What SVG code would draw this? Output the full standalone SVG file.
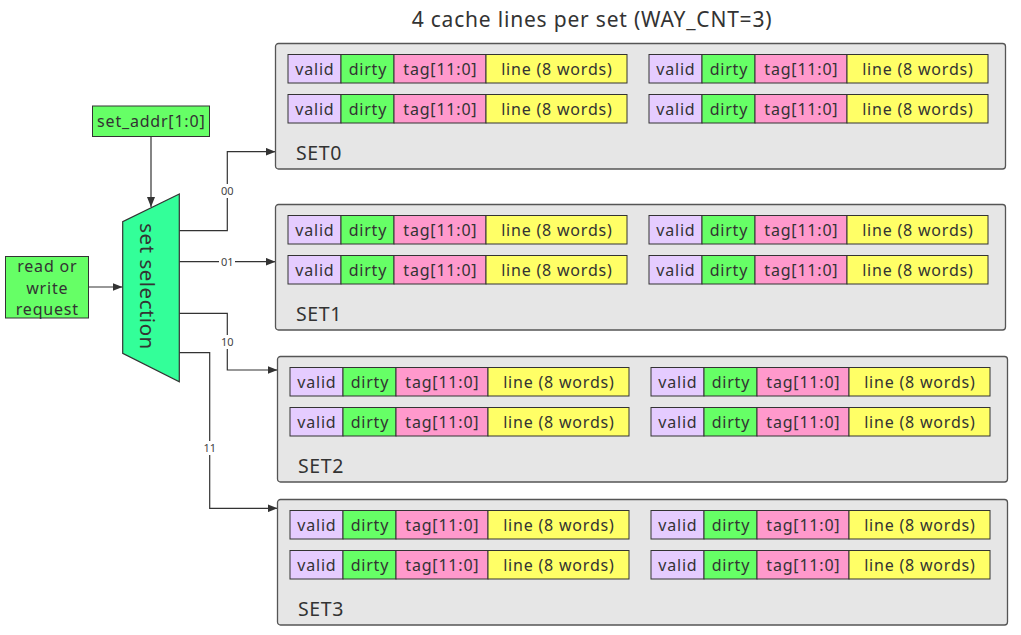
<svg xmlns="http://www.w3.org/2000/svg" width="1021" height="635" viewBox="0 0 1021 635">
<style>
text{font-family:"Noto Sans","Open Sans","DejaVu Sans",sans-serif;fill:#333}
.setbox{fill:#e6e6e6;stroke:#555;stroke-width:1.3}
.c{stroke:#333;stroke-width:1}
.v{fill:#e5ccff}.d{fill:#66ff66}.t{fill:#ff99cc}.l{fill:#ffff66}
.ct{font-size:16px;text-anchor:middle;letter-spacing:0.8px}
.sl{font-size:19.5px;letter-spacing:0.6px}
.wire{fill:none;stroke:#333;stroke-width:1.2}
.lbl{font-size:11px;text-anchor:middle;fill:#444}
.lblbg{fill:#fff}
</style>
<defs>
<marker id="arr" viewBox="0 0 10 8" refX="10" refY="4" markerWidth="10" markerHeight="8" markerUnits="userSpaceOnUse" orient="auto">
<path d="M0,0 L10,4 L0,8 Z" fill="#333"/>
</marker>
</defs>
<rect width="1021" height="635" fill="#fff"/>
<text x="592" y="27" style="font-size:21px;letter-spacing:0.8px" text-anchor="middle">4 cache lines per set (WAY_CNT=3)</text>

<g id="connectors">
<path class="wire" d="M151,136.5 V207" marker-end="url(#arr)"/>
<path class="wire" d="M88.5,287 H122.5" marker-end="url(#arr)"/>
<path class="wire" d="M179.3,230.7 H227.3 V151.7 H275.5" marker-end="url(#arr)"/>
<path class="wire" d="M179.3,261.7 H275.5" marker-end="url(#arr)"/>
<path class="wire" d="M179.3,313.3 H227.3 V370 H277.5" marker-end="url(#arr)"/>
<path class="wire" d="M179.3,352.7 H209.7 V508.3 H277.5" marker-end="url(#arr)"/>
<rect class="lblbg" x="219" y="184" width="16" height="14"/>
<text class="lbl" x="227.3" y="195">00</text>
<rect class="lblbg" x="219" y="255" width="16" height="14"/>
<text class="lbl" x="227.3" y="266">01</text>
<rect class="lblbg" x="219" y="335" width="16" height="14"/>
<text class="lbl" x="227.3" y="346">10</text>
<rect class="lblbg" x="202" y="441" width="16" height="14"/>
<text class="lbl" x="209.7" y="452">11</text>
</g>

<g id="set_addr">
<rect x="92.5" y="106" width="117" height="30.5" fill="#66ff66" stroke="#333" stroke-width="1"/>
<text class="ct" x="151.3" y="127">set_addr[1:0]</text>
</g>

<g id="request">
<rect x="5.5" y="256.5" width="83" height="61.5" fill="#66ff66" stroke="#333" stroke-width="1"/>
<text class="ct" x="47.3" y="272">read or</text>
<text class="ct" x="47.3" y="293.5">write</text>
<text class="ct" x="47.3" y="314.5">request</text>
</g>

<g id="set_selection">
<path d="M179.3,194 L122.7,221.7 L122.7,353.3 L179.3,381.7 Z" fill="#33ff99" stroke="#333" stroke-width="1.2"/>
<text transform="translate(148.3,286.5) rotate(90)" x="0" y="0" style="font-size:20.5px;letter-spacing:0.5px" text-anchor="middle" dominant-baseline="central">set selection</text>
</g>

<g id="set0" transform="translate(275.5,43.5)">
<rect class="setbox" width="730" height="125.5" rx="3"/>
<g transform="translate(12.5,11)"><rect class="c v" width="53" height="28.5"/><rect class="c d" x="53" width="53" height="28.5"/><rect class="c t" x="106" width="92" height="28.5"/><rect class="c l" x="198" width="141" height="28.5"/><text class="ct" x="26.9" y="20">valid</text><text class="ct" x="79.9" y="20">dirty</text><text class="ct" x="152.4" y="20">tag[11:0]</text><text class="ct" x="268.9" y="20">line (8 words)</text></g>
<g transform="translate(12.5,51)"><rect class="c v" width="53" height="28.5"/><rect class="c d" x="53" width="53" height="28.5"/><rect class="c t" x="106" width="92" height="28.5"/><rect class="c l" x="198" width="141" height="28.5"/><text class="ct" x="26.9" y="20">valid</text><text class="ct" x="79.9" y="20">dirty</text><text class="ct" x="152.4" y="20">tag[11:0]</text><text class="ct" x="268.9" y="20">line (8 words)</text></g>
<g transform="translate(373.5,11)"><rect class="c v" width="53" height="28.5"/><rect class="c d" x="53" width="53" height="28.5"/><rect class="c t" x="106" width="92" height="28.5"/><rect class="c l" x="198" width="141" height="28.5"/><text class="ct" x="26.9" y="20">valid</text><text class="ct" x="79.9" y="20">dirty</text><text class="ct" x="152.4" y="20">tag[11:0]</text><text class="ct" x="268.9" y="20">line (8 words)</text></g>
<g transform="translate(373.5,51)"><rect class="c v" width="53" height="28.5"/><rect class="c d" x="53" width="53" height="28.5"/><rect class="c t" x="106" width="92" height="28.5"/><rect class="c l" x="198" width="141" height="28.5"/><text class="ct" x="26.9" y="20">valid</text><text class="ct" x="79.9" y="20">dirty</text><text class="ct" x="152.4" y="20">tag[11:0]</text><text class="ct" x="268.9" y="20">line (8 words)</text></g>
<text class="sl" x="20.5" y="116">SET0</text>
</g>

<g id="set1" transform="translate(275.5,204.5)">
<rect class="setbox" width="730" height="125.5" rx="3"/>
<g transform="translate(12.5,11)"><rect class="c v" width="53" height="28.5"/><rect class="c d" x="53" width="53" height="28.5"/><rect class="c t" x="106" width="92" height="28.5"/><rect class="c l" x="198" width="141" height="28.5"/><text class="ct" x="26.9" y="20">valid</text><text class="ct" x="79.9" y="20">dirty</text><text class="ct" x="152.4" y="20">tag[11:0]</text><text class="ct" x="268.9" y="20">line (8 words)</text></g>
<g transform="translate(12.5,51)"><rect class="c v" width="53" height="28.5"/><rect class="c d" x="53" width="53" height="28.5"/><rect class="c t" x="106" width="92" height="28.5"/><rect class="c l" x="198" width="141" height="28.5"/><text class="ct" x="26.9" y="20">valid</text><text class="ct" x="79.9" y="20">dirty</text><text class="ct" x="152.4" y="20">tag[11:0]</text><text class="ct" x="268.9" y="20">line (8 words)</text></g>
<g transform="translate(373.5,11)"><rect class="c v" width="53" height="28.5"/><rect class="c d" x="53" width="53" height="28.5"/><rect class="c t" x="106" width="92" height="28.5"/><rect class="c l" x="198" width="141" height="28.5"/><text class="ct" x="26.9" y="20">valid</text><text class="ct" x="79.9" y="20">dirty</text><text class="ct" x="152.4" y="20">tag[11:0]</text><text class="ct" x="268.9" y="20">line (8 words)</text></g>
<g transform="translate(373.5,51)"><rect class="c v" width="53" height="28.5"/><rect class="c d" x="53" width="53" height="28.5"/><rect class="c t" x="106" width="92" height="28.5"/><rect class="c l" x="198" width="141" height="28.5"/><text class="ct" x="26.9" y="20">valid</text><text class="ct" x="79.9" y="20">dirty</text><text class="ct" x="152.4" y="20">tag[11:0]</text><text class="ct" x="268.9" y="20">line (8 words)</text></g>
<text class="sl" x="20.5" y="116">SET1</text>
</g>

<g id="set2" transform="translate(277.5,356.5)">
<rect class="setbox" width="730" height="125.5" rx="3"/>
<g transform="translate(12.5,11)"><rect class="c v" width="53" height="28.5"/><rect class="c d" x="53" width="53" height="28.5"/><rect class="c t" x="106" width="92" height="28.5"/><rect class="c l" x="198" width="141" height="28.5"/><text class="ct" x="26.9" y="20">valid</text><text class="ct" x="79.9" y="20">dirty</text><text class="ct" x="152.4" y="20">tag[11:0]</text><text class="ct" x="268.9" y="20">line (8 words)</text></g>
<g transform="translate(12.5,51)"><rect class="c v" width="53" height="28.5"/><rect class="c d" x="53" width="53" height="28.5"/><rect class="c t" x="106" width="92" height="28.5"/><rect class="c l" x="198" width="141" height="28.5"/><text class="ct" x="26.9" y="20">valid</text><text class="ct" x="79.9" y="20">dirty</text><text class="ct" x="152.4" y="20">tag[11:0]</text><text class="ct" x="268.9" y="20">line (8 words)</text></g>
<g transform="translate(373.5,11)"><rect class="c v" width="53" height="28.5"/><rect class="c d" x="53" width="53" height="28.5"/><rect class="c t" x="106" width="92" height="28.5"/><rect class="c l" x="198" width="141" height="28.5"/><text class="ct" x="26.9" y="20">valid</text><text class="ct" x="79.9" y="20">dirty</text><text class="ct" x="152.4" y="20">tag[11:0]</text><text class="ct" x="268.9" y="20">line (8 words)</text></g>
<g transform="translate(373.5,51)"><rect class="c v" width="53" height="28.5"/><rect class="c d" x="53" width="53" height="28.5"/><rect class="c t" x="106" width="92" height="28.5"/><rect class="c l" x="198" width="141" height="28.5"/><text class="ct" x="26.9" y="20">valid</text><text class="ct" x="79.9" y="20">dirty</text><text class="ct" x="152.4" y="20">tag[11:0]</text><text class="ct" x="268.9" y="20">line (8 words)</text></g>
<text class="sl" x="20.5" y="116">SET2</text>
</g>

<g id="set3" transform="translate(277.5,499.5)">
<rect class="setbox" width="730" height="125.5" rx="3"/>
<g transform="translate(12.5,11)"><rect class="c v" width="53" height="28.5"/><rect class="c d" x="53" width="53" height="28.5"/><rect class="c t" x="106" width="92" height="28.5"/><rect class="c l" x="198" width="141" height="28.5"/><text class="ct" x="26.9" y="20">valid</text><text class="ct" x="79.9" y="20">dirty</text><text class="ct" x="152.4" y="20">tag[11:0]</text><text class="ct" x="268.9" y="20">line (8 words)</text></g>
<g transform="translate(12.5,51)"><rect class="c v" width="53" height="28.5"/><rect class="c d" x="53" width="53" height="28.5"/><rect class="c t" x="106" width="92" height="28.5"/><rect class="c l" x="198" width="141" height="28.5"/><text class="ct" x="26.9" y="20">valid</text><text class="ct" x="79.9" y="20">dirty</text><text class="ct" x="152.4" y="20">tag[11:0]</text><text class="ct" x="268.9" y="20">line (8 words)</text></g>
<g transform="translate(373.5,11)"><rect class="c v" width="53" height="28.5"/><rect class="c d" x="53" width="53" height="28.5"/><rect class="c t" x="106" width="92" height="28.5"/><rect class="c l" x="198" width="141" height="28.5"/><text class="ct" x="26.9" y="20">valid</text><text class="ct" x="79.9" y="20">dirty</text><text class="ct" x="152.4" y="20">tag[11:0]</text><text class="ct" x="268.9" y="20">line (8 words)</text></g>
<g transform="translate(373.5,51)"><rect class="c v" width="53" height="28.5"/><rect class="c d" x="53" width="53" height="28.5"/><rect class="c t" x="106" width="92" height="28.5"/><rect class="c l" x="198" width="141" height="28.5"/><text class="ct" x="26.9" y="20">valid</text><text class="ct" x="79.9" y="20">dirty</text><text class="ct" x="152.4" y="20">tag[11:0]</text><text class="ct" x="268.9" y="20">line (8 words)</text></g>
<text class="sl" x="20.5" y="116">SET3</text>
</g>
</svg>
